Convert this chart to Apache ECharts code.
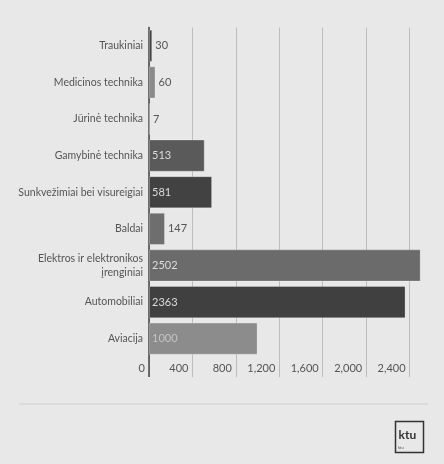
<!DOCTYPE html>
<html><head><meta charset="utf-8">
<script src="https://cdn.jsdelivr.net/npm/echarts@6/dist/echarts.min.js"></script>
<style>html,body{margin:0;padding:0;background:#e8e8e9}#c{width:444px;height:464px}</style>
</head><body><div id="c"></div>
<script>
const categories = ['Traukiniai','Medicinos technika','Jūrinė technika','Gamybinė technika','Sunkvežimiai bei visureigiai','Baldai','Elektros ir elektronikos\nįrenginiai','Automobiliai','Aviacija'];
const values = [30, 60, 7, 513, 581, 147, 2502, 2363, 1000];
const barColors = ['#454545','#8a8a8a','#454545','#5a5a5a','#424242','#6e6e6e','#6b6b6b','#404040','#8c8c8c'];
const xTicks = [0, 400, 800, 1200, 1600, 2000, 2400, 2800];

const font = 'Lato';
const chart = echarts.init(document.getElementById('c'), null, {renderer:'canvas'});
const data = values.map((v,i)=>({
  value: v,
  itemStyle: {color: barColors[i]},
  label: v > 400 ? {position:'insideLeft', distance:3, color: barColors[i]==='#8c8c8c' ? '#c4c4c4' : '#dcdcdc'}
                 : {position:'right', distance:3, color:'#555'}
}));
chart.setOption({
  backgroundColor:'#e8e8e9',
  animation:false,
  grid:{left:149, top:27.5, right:-9, height:329.5, containLabel:false, outerBoundsMode:'none'},
  xAxis:[{
    type:'value', position:'bottom', min:xTicks[0], max:xTicks[xTicks.length-1], interval:400,
    axisLine:{show:false},
    axisTick:{show:true, length:20, lineStyle:{color:'#bdbdbd'}},
    splitLine:{show:true, lineStyle:{color:'#bdbdbd', width:1}},
    axisLabel:{margin:6, align:'right', padding:[0,4,0,0], color:'#555', fontSize:11, fontFamily:font,
      showMaxLabel:false, formatter:v=>v.toLocaleString('en-US')}
  },{
    type:'value', position:'bottom', offset:0, min:xTicks[0], max:xTicks[xTicks.length-1], interval:2800,
    axisLine:{show:false}, axisLabel:{show:false}, splitLine:{show:false},
    axisTick:{show:true, length:20, lineStyle:{color:'#444', width:1.5}}
  }],
  yAxis:{
    type:'category', data:categories, inverse:true,
    axisLine:{show:true, lineStyle:{color:'#444', width:1.5}},
    axisTick:{show:false},
    axisLabel:{margin:6, color:'#555', fontSize:10.5, fontFamily:font, lineHeight:14, align:'right'}
  },
  series:[{
    type:'bar', data:data, barCategoryGap:'12%',
    itemStyle:{borderColor:'rgba(255,255,255,0.25)', borderWidth:1},
    label:{show:true, fontSize:11, fontFamily:font}
  }],
  graphic:[
    {type:'line', shape:{x1:19,y1:404,x2:428,y2:404}, style:{stroke:'#cfcfcf', lineWidth:1}},
    {type:'rect', shape:{x:395.5,y:421.5,width:28,height:31}, style:{fill:'none', stroke:'#333', lineWidth:1.5}},
    {type:'text', left:398.5, top:429, style:{text:'ktu', font:'bold 12px Lato', fill:'#333'}},
    {type:'text', left:398, top:446, style:{text:'ktu', font:'4px Lato', fill:'#555'}}
  ]
});
</script></body></html>
